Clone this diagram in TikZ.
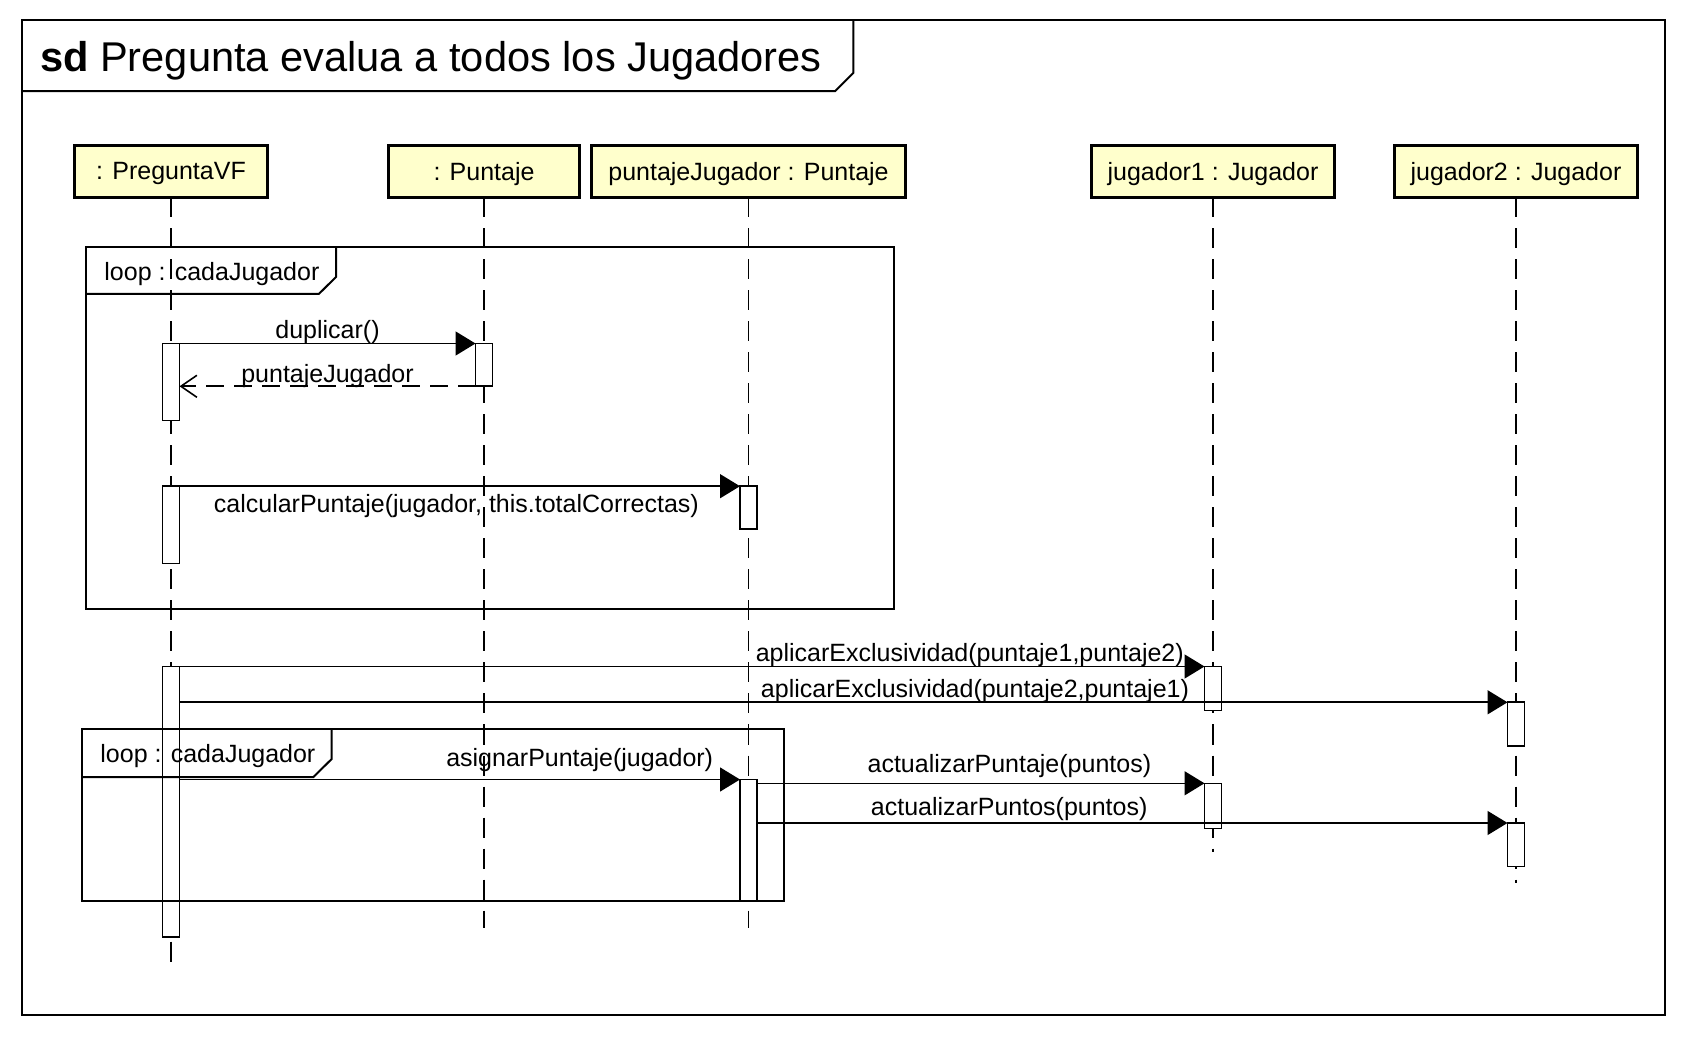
\documentclass[tikz,border=0pt]{standalone}
\usepackage{fontspec}
\setmainfont{Liberation Sans}
\usetikzlibrary{arrows.meta}
\definecolor{headyellow}{RGB}{255,255,204}
\tikzstyle{lifehead} = [rectangle, draw=black, line width=1.6pt, fill=headyellow, minimum height=26pt, inner sep=0pt, outer sep=0pt, text depth=0.5pt, text centered, font=\fontsize{12.5}{15}\selectfont]
\tikzstyle{lifeline} = [line width=0.7pt, dash pattern=on 10pt off 5.5pt]
\tikzstyle{activation} = [rectangle, draw=black, line width=0.8pt, fill=white, minimum width=8.5pt, inner sep=0pt, outer sep=0pt, anchor=north]
\tikzstyle{frame} = [line width=1pt]
\tikzstyle{call} = [line width=0.8pt, -{Triangle[length=10pt,width=12pt]}]
\tikzstyle{reply} = [line width=0.8pt, dash pattern=on 9pt off 5pt, -{Straight Barb[length=8pt,width=11pt]}]
\tikzstyle{lbl} = [inner sep=0pt, yshift=-1.5pt, font=\fontsize{12.5}{15}\selectfont]

\begin{document}
\begin{tikzpicture}[x=0.5pt, y=-0.5pt]
        \useasboundingbox (0,0) rectangle (1683,1037);

        \draw [frame] (21.5,20.4) rectangle (1664.7,1015.3);
        \draw [frame] (21.5,91.2) -- (835,91.2) -- (853.3,73) -- (853.3,20.4);
        \node (title) [anchor=base west, inner sep=0pt, font=\fontsize{20.8}{25}\selectfont] at (39.7,72) {\textbf{sd} Pregunta evalua a todos los Jugadores};

        \node (preguntaVF) [lifehead, minimum width=96.5pt] at (171,171.5) {: PreguntaVF};
        \node (puntaje) [lifehead, minimum width=95.5pt] at (484,171.5) {: Puntaje};
        \node (puntajeJugador) [lifehead, minimum width=156.7pt] at (748.5,171.5) {puntajeJugador : Puntaje};
        \node (jugador1) [lifehead, minimum width=121.3pt] at (1213,171.5) {jugador1 : Jugador};
        \node (jugador2) [lifehead, minimum width=121.8pt] at (1516,171.5) {jugador2 : Jugador};

        \coordinate (preguntaVFEnd) at (171,963);
        \coordinate (puntajeEnd) at (484,928);
        \coordinate (puntajeJugadorEnd) at (748.5,928);
        \coordinate (jugador1End) at (1213,852);
        \coordinate (jugador2End) at (1516,883);
        \draw [lifeline] (preguntaVF) -- (preguntaVFEnd);
        \draw [lifeline] (puntaje) -- (puntajeEnd);
        \draw [lifeline] (puntajeJugador) -- (puntajeJugadorEnd);
        \draw [lifeline] (jugador1) -- (jugador1End);
        \draw [lifeline] (jugador2) -- (jugador2End);

        \node (pvAct1) [activation, minimum height=38.6pt] at (171,343.5) {};
        \node (pvAct2) [activation, minimum height=38.6pt] at (171,486.2) {};
        \node (pvAct3) [activation, minimum height=135.2pt] at (171,666.5) {};
        \node (puAct) [activation, minimum height=21.4pt] at (484,343.5) {};
        \node (pjAct1) [activation, minimum height=21.4pt] at (748.5,486.2) {};
        \node (pjAct2) [activation, minimum height=60.6pt] at (748.5,779.5) {};
        \node (j1Act1) [activation, minimum height=22.1pt] at (1213,666.5) {};
        \node (j1Act2) [activation, minimum height=22.5pt] at (1213,783.3) {};
        \node (j2Act1) [activation, minimum height=21.7pt] at (1516,702.3) {};
        \node (j2Act2) [activation, minimum height=21.8pt] at (1516,823) {};

        \draw [frame] (86,246.9) rectangle (894,608.6);
        \draw [frame] (86,294) -- (318.8,294) -- (336,277) -- (336,246.9);
        \node (loopOne) [lbl, anchor=west] at (104,271.5) {loop : cadaJugador};
        \draw [frame] (82,728.8) rectangle (784,900.7);
        \draw [frame] (82,777) -- (313.4,777) -- (331.7,759) -- (331.7,728.8);
        \node (loopTwo) [lbl, anchor=west] at (100,753.5) {loop : cadaJugador};

        \draw [call] (pvAct1.north east) -- (puAct.north west) node [lbl, midway, above=1pt] {duplicar()};
        \draw [reply] (puAct.south west) -- (pvAct1.east |- puAct.south) node [lbl, midway, above=0.6pt] {puntajeJugador};
        \draw [call] (pvAct2.north east) -- (pjAct1.north west) node [lbl, pos=0.494, below=2pt] {calcularPuntaje(jugador, this.totalCorrectas)};
        \draw [call] (pvAct3.north east) -- (j1Act1.north west) node [lbl, pos=0.771, above=1pt] {aplicarExclusividad(puntaje1,puntaje2)};
        \draw [call] (pvAct3.east |- j2Act1.north) -- (j2Act1.north west) node [lbl, pos=0.599, above=1pt] {aplicarExclusividad(puntaje2,puntaje1)};
        \draw [call] (pvAct3.east |- pjAct2.north) -- (pjAct2.north west) node [lbl, pos=0.714, above=4.8pt] {asignarPuntaje(jugador)};
        \draw [call] (pjAct2.east |- j1Act2.north) -- (j1Act2.north west) node [lbl, pos=0.564, above=3.9pt] {actualizarPuntaje(puntos)};
        \draw [call] (pjAct2.east |- j2Act2.north) -- (j2Act2.north west) node [lbl, pos=0.336, above=2.3pt] {actualizarPuntos(puntos)};
\end{tikzpicture}
\end{document}
